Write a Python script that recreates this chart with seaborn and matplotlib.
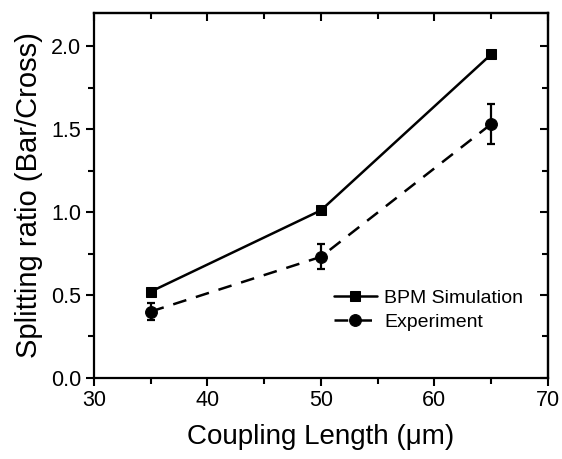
import matplotlib
matplotlib.use("Agg")
import matplotlib.pyplot as plt
import seaborn as sns
import pandas as pd
from matplotlib.ticker import MultipleLocator, FormatStrFormatter

length = [35, 50, 65]
bpm = [0.52, 1.01, 1.95]
exp = [0.40, 0.73, 1.53]
exp_err = [0.05, 0.075, 0.12]

sns.set_style("ticks")
plt.rcParams['font.family'] = ['Liberation Sans', 'DejaVu Sans']
plt.rcParams['text.color'] = 'black'
plt.rcParams['axes.labelcolor'] = 'black'
plt.rcParams['xtick.color'] = 'black'
plt.rcParams['ytick.color'] = 'black'

fig = plt.figure(figsize=(5.62, 4.59), dpi=100)
ax = fig.add_axes([0.167, 0.1765, 0.808, 0.7955])

df_bpm = pd.DataFrame({"x": length, "y": bpm})
df_exp = pd.DataFrame({"x": length, "y": exp})

sns.lineplot(data=df_bpm, x="x", y="y", ax=ax, color="black", lw=1.8,
             marker="s", markersize=7.5, markeredgecolor="black",
             label="BPM Simulation")
sns.lineplot(data=df_exp, x="x", y="y", ax=ax, color="black", lw=1.8,
             linestyle=(0, (5.5, 4)), marker="o", markersize=8.5, markeredgecolor="black",
             label="Experiment")
ax.errorbar(length, exp, yerr=exp_err, fmt="none", ecolor="black",
            elinewidth=1.6, capsize=3, capthick=1.6)

ax.set_xlim(30, 70)
ax.set_ylim(0, 2.2)
ax.xaxis.set_major_locator(MultipleLocator(10))
ax.xaxis.set_minor_locator(MultipleLocator(5))
ax.yaxis.set_major_locator(MultipleLocator(0.5))
ax.yaxis.set_minor_locator(MultipleLocator(0.25))
ax.yaxis.set_major_formatter(FormatStrFormatter('%.1f'))

for s in ax.spines.values():
    s.set_linewidth(1.6)
    s.set_color("black")

ax.tick_params(axis="both", which="major", direction="out", length=6, width=1.5,
               labelsize=15.5, colors="black", pad=3)
ax.tick_params(axis="both", which="minor", direction="out", length=4, width=1.5)
axt = ax.secondary_xaxis('top')
axt.set_xticks([30, 40, 50, 60, 70])
axt.xaxis.set_minor_locator(MultipleLocator(5))
axt.tick_params(which="major", direction="in", length=6, width=1.5, labeltop=False)
axt.tick_params(which="minor", direction="in", length=4, width=1.5)
axt.spines['top'].set_linewidth(1.6)
axr = ax.secondary_yaxis('right')
axr.yaxis.set_major_locator(MultipleLocator(0.5))
axr.yaxis.set_minor_locator(MultipleLocator(0.25))
axr.tick_params(which="major", direction="in", length=6, width=1.5, labelright=False)
axr.tick_params(which="minor", direction="in", length=4, width=1.5)
axr.spines['right'].set_linewidth(1.6)

ax.set_xlabel("Coupling Length (μm)", fontsize=20, labelpad=9)
ax.set_ylabel("Splitting ratio (Bar/Cross)", fontsize=21, labelpad=6)

leg = ax.legend(loc="upper left", bbox_to_anchor=(0.49, 0.29), frameon=False,
                fontsize=14, handlelength=2.2, handletextpad=0.4, labelspacing=0.3)

fig.savefig("out.png", dpi=100)
